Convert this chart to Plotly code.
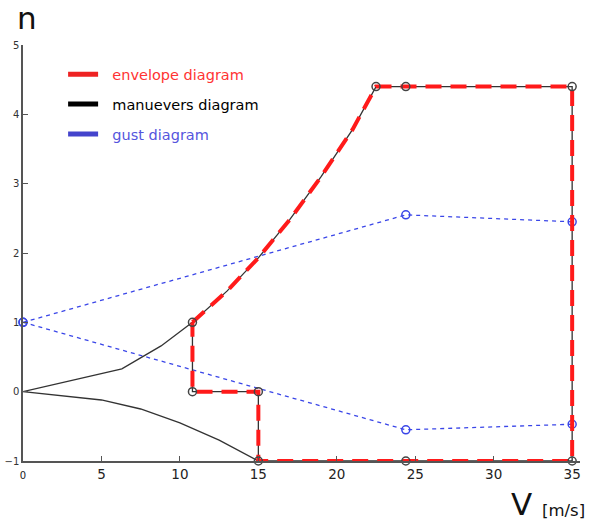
import plotly.graph_objects as go

# Manoeuvre diagram (black)
man_v = [15, 12.5, 10, 7.5, 5, 0, 6.3, 8.8, 10.8, 13, 15, 17, 19, 21, 22.5, 24.4, 35, 35, 24.4, 15, 15, 10.8, 10.8]
man_n = [-1.0, -0.7, -0.45, -0.25, -0.12, 0, 0.33, 0.66, 1.0, 1.45, 1.93, 2.48, 3.1, 3.78, 4.4, 4.4, 4.4, -1.0, -1.0, -1.0, 0, 0, 1.0]
man_pts_v = [10.8, 22.5, 24.4, 35, 35, 24.4, 15, 15, 10.8]
man_pts_n = [1.0, 4.4, 4.4, 4.4, -1.0, -1.0, -1.0, 0, 0]

# Envelope diagram (red dashed)
env_v = [10.8, 13, 15, 17, 19, 21, 22.5, 24.4, 35, 35, 24.4, 15, 15, 10.8, 10.8]
env_n = [1.0, 1.45, 1.93, 2.48, 3.1, 3.78, 4.4, 4.4, 4.4, -1.0, -1.0, -1.0, 0, 0, 1.0]

# Gust diagram (blue dotted)
gust_up_v = [0, 24.4, 35]
gust_up_n = [1.0, 2.55, 2.45]
gust_lo_v = [0, 24.4, 35]
gust_lo_n = [1.0, -0.55, -0.47]

x_ticks = [0, 5, 10, 15, 20, 25, 30, 35]
y_ticks = [-1, 0, 1, 2, 3, 4, 5]

RED = "#ff1a1a"
BLACK = "#333333"
BLUE = "#3a46e8"

fig = go.Figure()
fig.add_trace(go.Scatter(x=gust_up_v, y=gust_up_n, mode="lines+markers",
                         line=dict(color=BLUE, width=1.3, dash="4px,4px"),
                         marker=dict(symbol="circle-open", size=8, color=BLUE, line=dict(width=1.5)),
                         showlegend=False, cliponaxis=False))
fig.add_trace(go.Scatter(x=gust_lo_v, y=gust_lo_n, mode="lines+markers",
                         line=dict(color=BLUE, width=1.3, dash="4px,4px"),
                         marker=dict(symbol="circle-open", size=8, color=BLUE, line=dict(width=1.5)),
                         showlegend=False, cliponaxis=False))
fig.add_trace(go.Scatter(x=man_v, y=man_n, mode="lines",
                         line=dict(color=BLACK, width=1.3), showlegend=False, cliponaxis=False))
fig.add_trace(go.Scatter(x=env_v, y=env_n, mode="lines",
                         line=dict(color=RED, width=4, dash="16px,9px"), showlegend=False, cliponaxis=False))
fig.add_trace(go.Scatter(x=man_pts_v, y=man_pts_n, mode="markers",
                         marker=dict(symbol="circle-open", size=8, color="#444444", line=dict(width=1.5)),
                         showlegend=False, cliponaxis=False))

# legend entries
for name, col, tcol in [("envelope diagram", "#ee2222", "#ff3333"),
                        ("manuevers diagram", "#000000", "#000000"),
                        ("gust diagram", "#4444cc", "#5555dd")]:
    fig.add_trace(go.Scatter(x=[None], y=[None], mode="lines",
                             line=dict(color=col, width=5),
                             name=f"<span style='color:{tcol}'>\u00a0\u00a0{name}</span>",
                             legendgroup=name))

fig.update_layout(
    width=598, height=524,
    margin=dict(l=23, r=18, t=45, b=63, autoexpand=False),
    plot_bgcolor="white", paper_bgcolor="white",
    font=dict(family="DejaVu Sans", size=13, color="#222"),
    legend=dict(x=0.072, y=0.968, xanchor="left", yanchor="top",
                bgcolor="rgba(0,0,0,0)", font=dict(size=14.5),
                tracegroupgap=8, itemwidth=30),
    xaxis=dict(range=[0, 35.5], showgrid=False, zeroline=False, automargin=False,
               showline=True, linecolor="#555", linewidth=1.5,
               ticks="inside", ticklen=5, tickcolor="#555",
               tickvals=x_ticks,
               ticktext=["<span style='font-size:10px'>0</span>"] + [str(t) for t in x_ticks[1:]],
               tickfont=dict(size=13.5, color="#222")),
    yaxis=dict(range=[-1, 5], showgrid=False, zeroline=False, automargin=False,
               showline=True, linecolor="#555", linewidth=1.5,
               ticks="inside", ticklen=5, tickcolor="#555",
               tickvals=y_ticks, tickfont=dict(size=10, color="#333")),
    annotations=[
        dict(text="n", xref="paper", yref="paper", x=-0.014, y=1.016,
             xanchor="left", yanchor="bottom", showarrow=False,
             font=dict(size=31, color="#111")),
        dict(text="V", xref="paper", yref="paper", x=0.872, y=-0.103,
             xanchor="left", yanchor="middle", showarrow=False,
             font=dict(size=31, color="#111")),
        dict(text="[m/s]", xref="paper", yref="paper", x=0.928, y=-0.118,
             xanchor="left", yanchor="middle", showarrow=False,
             font=dict(size=16.5, color="#111")),
    ],
)

fig.write_html("out.html")
